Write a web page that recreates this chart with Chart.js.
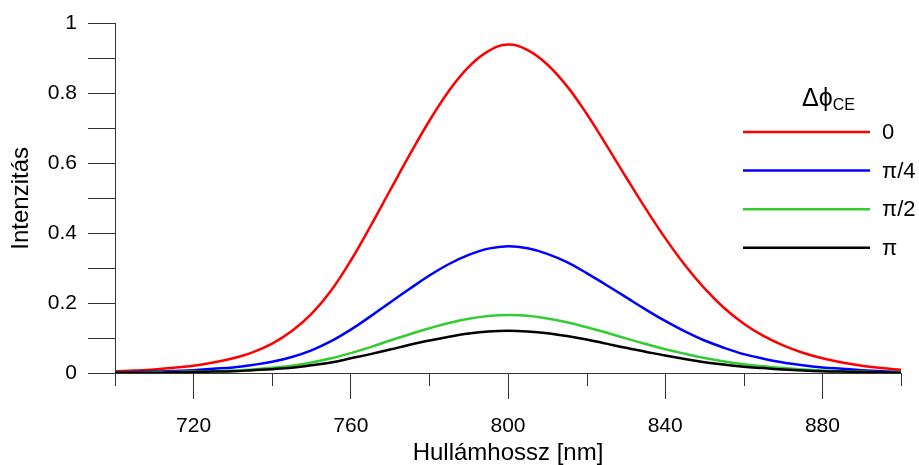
<!DOCTYPE html>
<html>
<head>
<meta charset="utf-8">
<script src="https://cdn.jsdelivr.net/npm/chart.js@4.4.0/dist/chart.umd.min.js"></script>
<style>
  html, body { margin: 0; padding: 0; background: #fff; }
</style>
</head>
<body>
<canvas id="spectrum" width="919" height="465"></canvas>
<script>
// wavelength grid [nm] and intensities
const wavelengths = [700, 705, 710, 715, 720, 725, 730, 735, 740, 745, 750, 755, 760, 765, 770, 775, 780, 785, 790, 795,
  800, 805, 810, 815, 820, 825, 830, 835, 840, 845, 850, 855, 860, 865, 870, 875, 880, 885, 890, 895, 900];

const phase0 = [0.005, 0.007, 0.010, 0.015, 0.021, 0.030, 0.042, 0.059, 0.084, 0.120, 0.169, 0.236, 0.322, 0.420, 0.523, 0.625, 0.722, 0.808, 0.876, 0.921,
  0.940, 0.924, 0.883, 0.821, 0.742, 0.653, 0.561, 0.471, 0.386, 0.309, 0.242, 0.186, 0.141, 0.106, 0.079, 0.058, 0.042, 0.030, 0.021, 0.014, 0.009];

const phasePi4 = [0.002, 0.003, 0.004, 0.006, 0.008, 0.012, 0.016, 0.023, 0.032, 0.046, 0.065, 0.091, 0.124, 0.162, 0.202, 0.241, 0.279, 0.312, 0.338, 0.356,
  0.363, 0.357, 0.341, 0.317, 0.286, 0.252, 0.217, 0.182, 0.149, 0.119, 0.093, 0.072, 0.054, 0.041, 0.030, 0.022, 0.016, 0.012, 0.008, 0.005, 0.003];

const phasePi2 = [0.001, 0.001, 0.002, 0.003, 0.004, 0.005, 0.007, 0.010, 0.015, 0.021, 0.030, 0.042, 0.057, 0.074, 0.093, 0.111, 0.128, 0.143, 0.155, 0.163,
  0.166, 0.164, 0.156, 0.145, 0.131, 0.116, 0.099, 0.083, 0.068, 0.055, 0.043, 0.033, 0.025, 0.019, 0.014, 0.010, 0.007, 0.005, 0.004, 0.002, 0.002];

const phasePi = [0.001, 0.001, 0.001, 0.002, 0.003, 0.004, 0.005, 0.008, 0.011, 0.015, 0.022, 0.030, 0.042, 0.054, 0.067, 0.081, 0.093, 0.104, 0.113, 0.119,
  0.121, 0.119, 0.114, 0.106, 0.096, 0.084, 0.072, 0.061, 0.050, 0.040, 0.031, 0.024, 0.018, 0.014, 0.010, 0.007, 0.005, 0.004, 0.003, 0.002, 0.001];

const seriesLabels = ['0', 'π/4', 'π/2', 'π'];
const seriesColors = ['#ff0000', '#0000ff', '#33cc33', '#000000'];

const xMajorTicks = [720, 760, 800, 840, 880];
const xMinorTicks = [700, 740, 780, 820, 860, 900];
const yTicks = [0, 0.1, 0.2, 0.3, 0.4, 0.5, 0.6, 0.7, 0.8, 0.9, 1];

const fontFamily = '"Liberation Sans", Arial, Helvetica, sans-serif';
const axisColor = '#333';

Chart.defaults.font.family = fontFamily;
Chart.defaults.color = '#000';

// minor x ticks + the legend in the top right corner
const extras = {
  id: 'extras',
  afterDraw(chart) {
    const ctx = chart.ctx;
    const xs = chart.scales.x;
    const ys = chart.scales.y;
    ctx.save();
    ctx.strokeStyle = axisColor;
    ctx.lineWidth = 1;
    xMinorTicks.forEach(v => {
      const px = Math.round(xs.getPixelForValue(v)) + 0.5;
      ctx.beginPath();
      ctx.moveTo(px, ys.bottom);
      ctx.lineTo(px, ys.bottom + 13);
      ctx.stroke();
    });

    // legend
    ctx.fillStyle = '#000';
    ctx.textAlign = 'left';
    ctx.textBaseline = 'alphabetic';
    ctx.font = '25px ' + fontFamily;
    ctx.fillText('Δϕ', 802, 106);
    const w = ctx.measureText('Δϕ').width;
    ctx.font = '16px ' + fontFamily;
    ctx.fillText('CE', 802 + w, 110);

    ctx.font = '22px ' + fontFamily;
    ctx.textBaseline = 'middle';
    seriesLabels.forEach((lab, i) => {
      const ly = 132 + i * 38.6;
      ctx.strokeStyle = seriesColors[i];
      ctx.lineWidth = 2.5;
      ctx.beginPath();
      ctx.moveTo(743, ly);
      ctx.lineTo(870, ly);
      ctx.stroke();
      ctx.fillText(lab, 882, ly + 1);
    });
    ctx.restore();
  }
};

const seriesData = [phase0, phasePi4, phasePi2, phasePi];

// black drawn last (on top), so datasets go in reverse
new Chart(document.getElementById('spectrum'), {
  type: 'line',
  data: {
    datasets: seriesData.map((vals, i) => ({
      label: seriesLabels[i],
      data: vals.map((v, j) => ({ x: wavelengths[j], y: v })),
      borderColor: seriesColors[i],
      borderWidth: 2.5,
      pointRadius: 0,
      tension: 0.4,
      fill: false
    })).reverse()
  },
  options: {
    responsive: false,
    animation: false,
    devicePixelRatio: 1,
    layout: { padding: { top: 20, right: 18, left: 0, bottom: 0 } },
    plugins: {
      legend: { display: false },
      tooltip: { enabled: false }
    },
    scales: {
      x: {
        type: 'linear',
        min: 700,
        max: 900,
        afterBuildTicks: s => { s.ticks = xMajorTicks.map(v => ({ value: v })); },
        afterFit: s => { s.height = 92; },
        grid: { drawOnChartArea: false, tickLength: 26, color: axisColor, tickWidth: 1 },
        border: { color: axisColor, width: 1 },
        ticks: { font: { size: 21 }, padding: 15, maxRotation: 0, color: '#000' },
        title: {
          display: true,
          text: 'Hullámhossz [nm]',
          font: { size: 24, lineHeight: 1.0 },
          padding: { top: 0, bottom: 0 },
          color: '#000'
        }
      },
      y: {
        min: 0,
        max: 1,
        afterBuildTicks: s => { s.ticks = yTicks.map(v => ({ value: v })); },
        afterFit: s => { s.width = 115; },
        grid: { drawOnChartArea: false, tickLength: 27, color: axisColor, tickWidth: 1 },
        border: { color: axisColor, width: 1 },
        ticks: {
          font: { size: 21 },
          padding: 11,
          color: '#000',
          callback: v => (Math.round(v * 10) % 2 === 0 ? String(+v.toFixed(1)) : '')
        },
        title: {
          display: true,
          text: 'Intenzitás',
          font: { size: 24, lineHeight: 1.2 },
          padding: { top: 7, bottom: 0 },
          color: '#000'
        }
      }
    }
  },
  plugins: [extras]
});
</script>
</body>
</html>
